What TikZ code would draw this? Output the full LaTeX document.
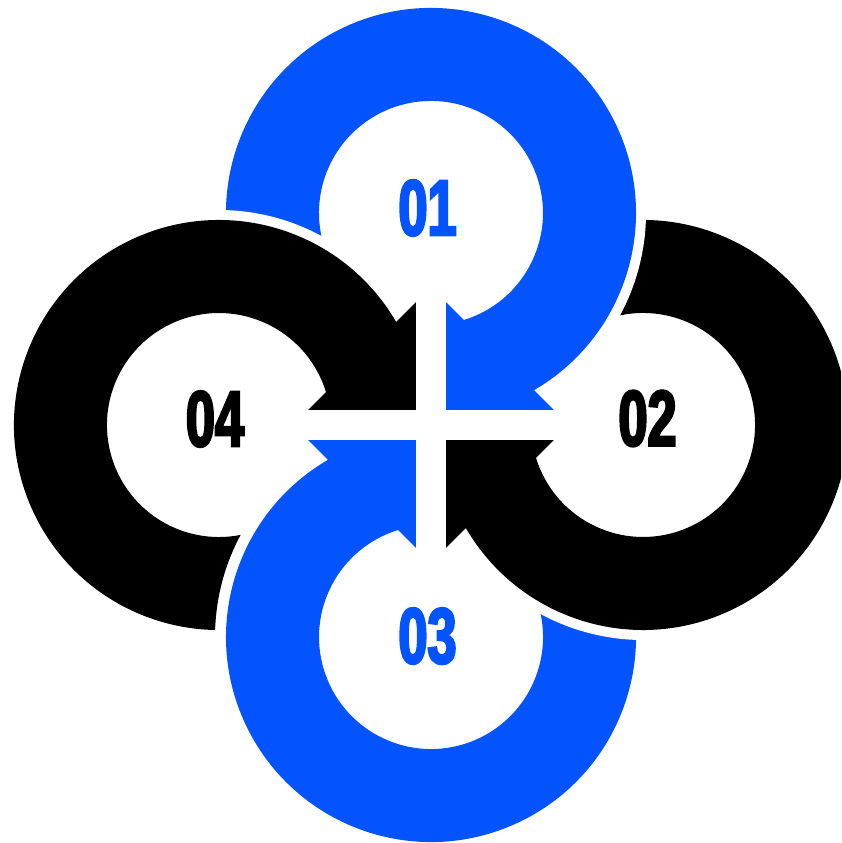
\documentclass[tikz,border=0pt]{standalone}
\usepackage{fontspec}
\usepackage{tikz}
\usetikzlibrary{calc}
\newfontfamily\numfont[FakeStretch=0.66,FakeBold=3]{Liberation Sans}
\definecolor{ringblue}{HTML}{0353FF}

% one ring arrow, given for the top ring; the other three are turned copies
\newcommand{\ringarrow}{(-185.8,125.4)
  arc[start angle=205, end angle=-59.8, radius=205]
  -- (138,0) -- (0,0) -- (0,138) -- (32.9,105.0)
  arc[start angle=-72.9, end angle=205, radius=112] -- cycle}

\begin{document}
\begin{tikzpicture}[
    scale=0.02,
    rim/.style={preaction={draw=white, line width=0.4cm, line join=round}},
    even odd clip/.code={\pgfseteorule},
    every node/.style={font=\numfont\bfseries\fontsize{45}{45}\selectfont}
  ]

  % Frame ---------------------------------------------------
  \useasboundingbox (-431,-418) rectangle (410,425);
  \clip (-431,-418) rectangle (410,425);

  % Ring centres
  \coordinate (c1) at (0,212);
  \coordinate (c2) at (212,0);
  \coordinate (c3) at (0,-212);
  \coordinate (c4) at (-212,0);

  % Ring 3 (bottom, blue): lies under ring 2 -----------------
  \begin{scope}[xscale=-1,yscale=-1]
    \fill[ringblue,rim] \ringarrow;
  \end{scope}

  % Ring 2 (right, black): lies under ring 1 -----------------
  \begin{scope}[cm={0,-1,1,0,(0,0)}]
    \fill[black,rim] \ringarrow;
  \end{scope}

  % Ring 1 (top, blue): lies under ring 4 --------------------
  \fill[ringblue,rim] \ringarrow;

  % Ring 4 (left, black): over ring 1, but kept off ring 3 ---
  \begin{scope}
    \clip[even odd clip] (-440,-440) rectangle (440,440) (c3) circle (216);
    \clip[even odd clip] (-440,-440) rectangle (440,440) (0,0) rectangle (-145,-145);
    \begin{scope}[cm={0,1,-1,0,(0,0)}]
      \fill[black,rim] \ringarrow;
    \end{scope}
  \end{scope}

  % Gap between the four arrow heads -------------------------
  \fill[white] (-15,-140) rectangle (15,140);
  \fill[white] (-140,-15) rectangle (140,15);

  % Numbers
  \node[ringblue] (n1) at ($(c1)+(-3.5,5)$)  {01};
  \node[black]    (n2) at ($(c2)+(4.5,6.5)$) {02};
  \node[ringblue] (n3) at ($(c3)+(-3.5,1)$)  {03};
  \node[black]    (n4) at ($(c4)+(-4,6)$)    {04};

\end{tikzpicture}
\end{document}
